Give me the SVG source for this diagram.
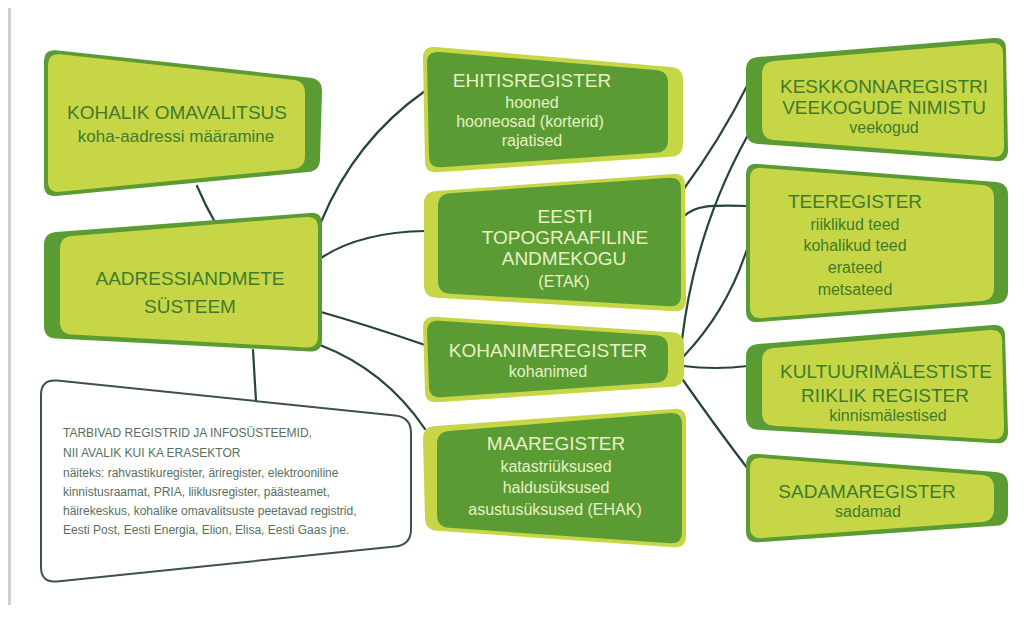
<svg xmlns="http://www.w3.org/2000/svg" width="1029" height="625" viewBox="0 0 1029 625">
<style>
.dark{fill:#5a9c33}
.lime{fill:#c7d647}
.con{fill:none;stroke:#25443a;stroke-width:2.2;stroke-linecap:round}
text{font-family:"Liberation Sans",Arial,sans-serif;text-anchor:middle}
.tl{fill:#3e7c2a;font-size:19px}
.sl{fill:#3e7c2a;font-size:16px}
.td{fill:#e8f0c6;font-size:19px}
.sd{fill:#e8f0c6;font-size:16px}
.note{fill:#56705f;font-size:12px;text-anchor:start}
</style>
<rect x="8" y="8" width="3" height="597" fill="#cfcfcf"/>
<g id="connectors">
<path class="con" d="M197,186 Q205,205 216,224"/>
<path class="con" d="M321,222 Q355,140 425,91"/>
<path class="con" d="M321,258 Q360,232 426,231"/>
<path class="con" d="M321,312 Q370,326 425,345"/>
<path class="con" d="M320,345 Q385,370 425,429"/>
<path class="con" d="M253,350 L256,401"/>
<path class="con" d="M683,190 Q720,140 748,84"/>
<path class="con" d="M683,217 C695,205 710,205 748,206"/>
<path class="con" d="M682,340 Q695,230 748,135"/>
<path class="con" d="M683,357 Q728,310 748,246"/>
<path class="con" d="M683,366 Q715,370 748,366"/>
<path class="con" d="M683,380 Q718,430 748,469"/>
</g>
<g id="kohalik">
<path class="dark" d="M44,61 Q44,49 56,50.3 L310,77.7 Q322,79 322,91 L320,159 Q320,171 308,172.1 L56,195.9 Q44,197 44,185 Z"/>
<path class="lime" d="M48,65 Q48,53 60,54.3 L293,79.7 Q305,81 305,93 L305,156 Q305,168 293,169.2 L60,191.8 Q48,193 48,181 Z"/>
<text class="tl" x="177" y="119">KOHALIK OMAVALITSUS</text>
<text class="sl" x="176" y="142" style="font-size:17px">koha-aadressi määramine</text>
</g>
<g id="aadress">
<path class="dark" d="M44,245 Q44,233 56,232.1 L310,212.9 Q322,212 322,224 L322,340 Q322,352 310,351.4 L56,338.6 Q44,338 44,326 Z"/>
<path class="lime" d="M60,249 Q60,237 72,236 L306,217 Q318,216 318,228 L318,336 Q318,348 306,347.4 L72,334.6 Q60,334 60,322 Z"/>
<text class="tl" x="190" y="285">AADRESSIANDMETE</text>
<text class="tl" x="190" y="313">SÜSTEEM</text>
</g>
<g id="tarbivad">
<path d="M41,395 Q41,379 57,380.6 L395,415.4 Q411,417 411,433 L411,529 Q411,545 395,546.6 L57,581.4 Q41,583 41,567 Z" fill="#ffffff" stroke="#3d5248" stroke-width="2"/>
<text class="note" x="63" y="437">TARBIVAD REGISTRID JA INFOSÜSTEEMID,</text>
<text class="note" x="63" y="457">NII AVALIK KUI KA ERASEKTOR</text>
<text class="note" x="63" y="477">näiteks: rahvastikuregister, äriregister, elektrooniline</text>
<text class="note" x="63" y="496">kinnistusraamat, PRIA, liiklusregister, päästeamet,</text>
<text class="note" x="63" y="515">häirekeskus, kohalike omavalitsuste peetavad registrid,</text>
<text class="note" x="63" y="534">Eesti Post, Eesti Energia, Elion, Elisa, Eesti Gaas jne.</text>
</g>
<g id="ehitis">
<path class="lime" d="M423,58 Q423,46 435,47 L671,67 Q683,68 683,80 L683,144 Q683,156 671,156.8 L437,172.2 Q425,173 425,161 Z"/>
<path class="dark" d="M427,63 Q427,51 439,52 L656,70 Q668,71 668,83 L668,140 Q668,152 656,152.8 L441,167.2 Q429,168 429,156 Z"/>
<text class="td" x="532" y="87">EHITISREGISTER</text>
<text class="sd" x="532" y="108">hooned</text>
<text class="sd" x="530" y="127">hooneosad (korterid)</text>
<text class="sd" x="532" y="146">rajatised</text>
</g>
<g id="etak">
<path class="lime" d="M424,204 Q424,192 436,191.1 L673,173.9 Q685,173 685,185 L686,300 Q686,312 674,311.3 L436,297.7 Q424,297 424,285 Z"/>
<path class="dark" d="M438,206 Q438,194 450,193.2 L669,177.8 Q681,177 681,189 L681,295 Q681,307 669,306.3 L450,293.7 Q438,293 438,281 Z"/>
<text class="td" x="565" y="223">EESTI</text>
<text class="td" x="565" y="244">TOPOGRAAFILINE</text>
<text class="td" x="564" y="265">ANDMEKOGU</text>
<text class="sd" x="564" y="287">(ETAK)</text>
</g>
<g id="kohanime">
<path class="lime" d="M423,328 Q423,316 435,316.8 L672,332.2 Q684,333 684,345 L684,374 Q684,386 672,386.8 L437,402.2 Q425,403 425,391 Z"/>
<path class="dark" d="M427,332 Q427,320 439,320.8 L656,335.2 Q668,336 668,348 L668,370 Q668,382 656,382.8 L441,397.2 Q429,398 429,386 Z"/>
<text class="td" x="548" y="357">KOHANIMEREGISTER</text>
<text class="sd" x="548" y="377">kohanimed</text>
</g>
<g id="maa">
<path class="lime" d="M423,439 Q423,427 435,426.1 L674,408.9 Q686,408 686,420 L686,536 Q686,548 674,547.2 L437,530.8 Q425,530 425,518 Z"/>
<path class="dark" d="M437,444 Q437,432 449,431 L670,413 Q682,412 682,424 L682,532 Q682,544 670,543.2 L449,527.8 Q437,527 437,515 Z"/>
<text class="td" x="556" y="450">MAAREGISTER</text>
<text class="sd" x="556" y="472">katastriüksused</text>
<text class="sd" x="556" y="493">haldusüksused</text>
<text class="sd" x="555" y="515">asustusüksused (EHAK)</text>
</g>
<g id="keskkond">
<path class="dark" d="M746,70 Q746,58 758,57 L994,38 Q1006,37 1006,49 L1008,150 Q1008,162 996,161.1 L758,143.9 Q746,143 746,131 Z"/>
<path class="lime" d="M762,74 Q762,62 774,61 L991,43 Q1003,42 1003,54 L1004,146 Q1004,158 992,157.1 L774,139.9 Q762,139 762,127 Z"/>
<text class="tl" x="884" y="93">KESKKONNAREGISTRI</text>
<text class="tl" x="884" y="114">VEEKOGUDE NIMISTU</text>
<text class="sl" x="884" y="133">veekogud</text>
</g>
<g id="tee">
<path class="dark" d="M746,175 Q746,163 758,163.9 L996,182.1 Q1008,183 1008,195 L1008,291 Q1008,303 996,303.9 L758,322.1 Q746,323 746,311 Z"/>
<path class="lime" d="M750,179 Q750,167 762,167.9 L982,185.1 Q994,186 994,198 L994,288 Q994,300 982,301 L762,318.1 Q750,319 750,307 Z"/>
<text class="tl" x="855" y="208">TEEREGISTER</text>
<text class="sl" x="855" y="230">riiklikud teed</text>
<text class="sl" x="855" y="251">kohalikud teed</text>
<text class="sl" x="855" y="273">erateed</text>
<text class="sl" x="855" y="295">metsateed</text>
</g>
<g id="kultuur">
<path class="dark" d="M746,357 Q746,345 758,344 L993,325 Q1005,324 1005,336 L1008,432 Q1008,444 996,443.3 L758,429.7 Q746,429 746,417 Z"/>
<path class="lime" d="M762,361 Q762,349 774,348 L990,330 Q1002,329 1002,341 L1004,428 Q1004,440 992,439.3 L774,425.7 Q762,425 762,413 Z"/>
<text class="tl" x="886" y="378">KULTUURIMÄLESTISTE</text>
<text class="tl" x="885" y="402">RIIKLIK REGISTER</text>
<text class="sl" x="888" y="421">kinnismälestised</text>
</g>
<g id="sadam">
<path class="dark" d="M746,465 Q746,453 758,453.9 L996,472.1 Q1008,473 1008,485 L1008,513 Q1008,525 996,525.8 L758,542.2 Q746,543 746,531 Z"/>
<path class="lime" d="M750,469 Q750,457 762,457.9 L982,475.1 Q994,476 994,488 L994,509 Q994,521 982,521.9 L762,538.1 Q750,539 750,527 Z"/>
<text class="tl" x="867" y="498">SADAMAREGISTER</text>
<text class="sl" x="868" y="517">sadamad</text>
</g>
</svg>
